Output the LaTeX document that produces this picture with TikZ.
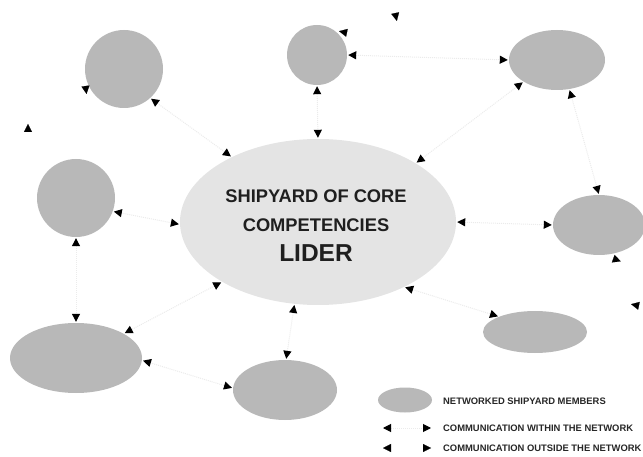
\documentclass[tikz,border=0pt]{standalone}
\usepackage{fontspec}
\setmainfont{Liberation Sans}
\usetikzlibrary{arrows.meta,shapes.geometric}
\definecolor{membergray}{gray}{0.72}
\definecolor{coregray}{gray}{0.895}
\definecolor{linkgray}{gray}{0.92}
\definecolor{textdark}{gray}{0.12}
\tikzset{
  memberbox/.style={ellipse, fill=membergray, inner sep=0pt},
  corebox/.style={ellipse, fill=coregray, inner sep=0pt},
  coretext/.style={inner sep=0pt, align=center, text=textdark, anchor=north,
    font=\bfseries\fontsize{18.3}{29}\selectfont},
  conn/.style={draw=linkgray, line width=1pt, densely dotted,
    {Triangle[length=8pt,width=8pt,color=black]}-{Triangle[length=8pt,width=8pt,color=black]},
    shorten <=1pt, shorten >=1pt},
  outconn/.style={draw=white, line width=0.1pt,
    -{Triangle[length=8pt,width=8pt,color=black]}},
  legendtext/.style={anchor=west, inner sep=0pt, text=black!85,
    font=\bfseries\fontsize{9.4}{11}\selectfont}
}
\begin{document}
\begin{tikzpicture}[x=1pt,y=-1pt]
\useasboundingbox (0,0) rectangle (643,457);
% nodes
\node[corebox, minimum width=276pt, minimum height=166pt] (c) at (318,222) {};
\node[coretext] (ct) at (316,189.5)
  {SHIPYARD OF CORE\\COMPETENCIES\\[1pt]{\fontsize{24.5}{29}\selectfont LIDER}};
\node[memberbox, minimum width=78pt, minimum height=78pt] (tl) at (124,69) {};
\node[memberbox, minimum width=60pt, minimum height=60pt] (tc) at (317,55) {};
\node[memberbox, minimum width=96pt, minimum height=60pt] (tr) at (557,60) {};
\node[memberbox, minimum width=78pt, minimum height=78pt] (l) at (76,198) {};
\node[memberbox, minimum width=92pt, minimum height=60pt] (r) at (599,225) {};
\node[memberbox, minimum width=104pt, minimum height=42pt] (lr) at (535,332) {};
\node[memberbox, minimum width=132pt, minimum height=70pt] (bl) at (76,358) {};
\node[memberbox, minimum width=104pt, minimum height=60pt] (bc) at (285,390) {};
% connectors within the network
\draw[conn] (tl.312) -- (c.143);
\draw[conn] (tc.270) -- (c.90);
\draw[conn] (tr.213) -- (c.31);
\draw[conn] (tc.0) -- (tr.180);
\draw[conn] (tr.293) -- (r.90);
\draw[conn] (c.0) -- (r.180);
\draw[conn] (c.323) -- (lr.157);
\draw[conn] (c.254) -- (bc.88);
\draw[conn] (c.212) -- (bl.27);
\draw[conn] (bl.358) -- (bc.178);
\draw[conn] (l.270) -- (bl.90);
\draw[conn] (l.340) -- (c.181);
% communication outside the network
\coordinate (o1) at (86,90);
\coordinate (o2) at (28,128);
\coordinate (o3) at (396,17);
\coordinate (o4) at (343,32);
\coordinate (o5) at (617,260);
\coordinate (o6) at (635,305);
\draw[outconn] (o1) -- +(-82:4pt);
\draw[outconn] (o2) -- +(90:4pt);
\draw[outconn] (o3) -- +(-78:4pt);
\draw[outconn] (o4) -- +(168:4pt);
\draw[outconn] (o5) -- +(-20:4pt);
\draw[outconn] (o6) -- +(168:4pt);
% legend
\node[memberbox, minimum width=54pt, minimum height=25pt] (lm) at (405,400) {};
\node[legendtext] (lt1) at (443,401) {NETWORKED SHIPYARD MEMBERS};
\coordinate (w1) at (383,428);
\coordinate (w2) at (431,428);
\draw[conn, shorten <=0pt, shorten >=0pt] (w1) -- (w2);
\node[legendtext] (lt2) at (443,428) {COMMUNICATION WITHIN THE NETWORK};
\coordinate (x1) at (387,448);
\coordinate (x2) at (427,448);
\draw[outconn] (x1) -- +(180:4pt);
\draw[outconn] (x2) -- +(0:4pt);
\node[legendtext] (lt3) at (443,448) {COMMUNICATION OUTSIDE THE NETWORK};
\end{tikzpicture}
\end{document}
